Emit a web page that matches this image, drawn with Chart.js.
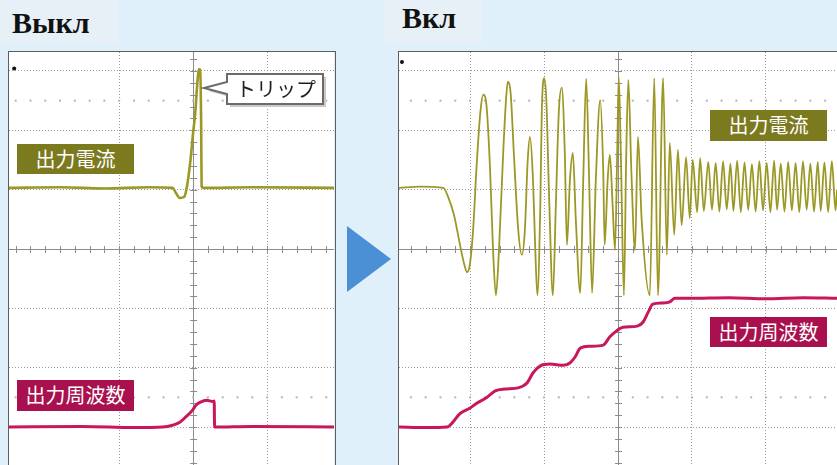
<!DOCTYPE html>
<html>
<head>
<meta charset="utf-8">
<script src="https://cdn.jsdelivr.net/npm/chart.js@4.4.1/dist/chart.umd.min.js"></script>
<style>
  html, body { margin: 0; padding: 0; }
  body {
    width: 837px; height: 465px; position: relative; overflow: hidden;
    background: #e0f0fa;
    font-family: "Noto Sans CJK JP", "Noto Sans", sans-serif;
  }
  .title {
    position: absolute; top: 0; height: 44px;
    background: #e6f0f6;
    font-family: "Liberation Serif", "DejaVu Serif", serif;
    font-weight: bold; font-size: 30px; color: #111; line-height: 1;
  }
  .plot { position: absolute; top: 52px; background: #fff; }
  .plot canvas { display: block; }
  .frame {
    position: absolute; top: 51px; box-sizing: border-box;
    border: 1.5px solid #5e5e5e; border-bottom: none; pointer-events: none;
  }
  .tag {
    position: absolute; color: #fff; font-size: 20px; line-height: 30px;
    text-align: center; letter-spacing: 0px;
  }
  .cur { background: #7c7a1f; }
  .frq { background: #a8114d; }
  .callout-text {
    position: absolute; left: 231px; top: 74px; width: 90px; height: 30px;
    font-size: 20px; line-height: 30px; color: #1e1e1e; text-align: center;
  }
</style>
</head>
<body>

<div class="title" style="left:0;width:118px;"><span style="position:absolute;left:12px;top:8px;">Выкл</span></div>
<div class="title" style="left:385px;width:97px;"><span style="position:absolute;left:17px;top:3px;">Вкл</span></div>

<div class="plot" style="left:9px;width:325px;height:413px;"><canvas id="offChart" width="325" height="413"></canvas></div>
<div class="plot" style="left:399px;width:438px;height:413px;"><canvas id="onChart" width="438" height="413"></canvas></div>
<div class="frame" style="left:8px;width:328px;height:414px;"></div>
<div class="frame" style="left:398px;width:442px;height:414px;"></div>

<svg style="position:absolute;left:0;top:0;" width="837" height="465">
  <polygon points="347,226 347,292 391,259" fill="#4b8fd4"/>
  <path d="M230,77 H326 V107 H230 V97 L208,91 L230,85 Z" fill="#c9c9c9"/>
  <path d="M227,74 H323 V104 H227 V94 L204,88 L227,82 Z" fill="#fff" stroke="#6b6b6b" stroke-width="2"/>
</svg>
<div class="callout-text">トリップ</div>

<div class="tag cur" style="left:17px;top:144px;width:117px;height:30px;">出力電流</div>
<div class="tag frq" style="left:17px;top:380px;width:117px;height:31px;">出力周波数</div>
<div class="tag cur" style="left:710px;top:110px;width:117px;height:31px;">出力電流</div>
<div class="tag frq" style="left:710px;top:317px;width:117px;height:30px;">出力周波数</div>

<script>
// Scope traces, in screen divisions (x: time/div from trigger, y: div from centre line)

// Without stall prevention: current spike, then trip
const offCurrentTime = [-2.49, -1.8, -1.2, -0.6, -0.28, -0.23, -0.18, -0.12, -0.08, -0.04, 0.0, 0.03, 0.05, 0.08, 0.095, 0.108, 0.115, 0.14, 0.8, 1.91];
const offCurrent     = [1.03, 1.04, 1.02, 1.04, 1.03, 0.94, 0.86, 0.88, 1.08, 1.45, 1.96, 2.31, 2.68, 3.03, 3.02, 2.18, 1.05, 1.03, 1.04, 1.03];

const offFreqTime = [-2.49, -1.5, -0.8, -0.41, -0.28, -0.18, -0.10, -0.01, 0.04, 0.10, 0.18, 0.27, 0.285, 0.29, 0.8, 1.91];
const offFreq     = [-3.0, -2.99, -3.01, -3.0, -2.97, -2.92, -2.83, -2.72, -2.63, -2.58, -2.55, -2.57, -2.56, -3.0, -2.99, -3.0];

// With stall prevention: current oscillates and settles, frequency climbs in steps
const onCurrentTime = [
  -2.96, -2.68, -2.36, -2.30, -2.22, -2.14, -2.08, -2.04, -2.00, -1.96, -1.91, -1.86, -1.82, -1.78, -1.73, -1.69,
  -1.65, -1.61, -1.55, -1.51, -1.49, -1.45, -1.41, -1.35, -1.30, -1.26, -1.22, -1.19, -1.15, -1.12, -1.09, -1.05,
  -1.03, -1.00, -0.97, -0.93, -0.88, -0.84, -0.80, -0.76, -0.72, -0.69, -0.65, -0.61, -0.57, -0.51, -0.47, -0.43,
  -0.39, -0.35, -0.30, -0.24, -0.20, -0.18, -0.14, -0.11, -0.07, -0.04, -0.01, 0.01, 0.04, 0.08, 0.11, 0.14,
  0.18, 0.23, 0.27, 0.32, 0.43, 0.49, 0.54, 0.61, 0.66, 0.70, 0.76, 0.81, 0.86, 0.92, 0.97, 1.01,
  1.07, 1.11, 1.16, 1.22, 1.27, 1.32, 1.37, 1.42, 1.47, 1.52, 1.56, 1.61, 1.66, 1.71, 1.76, 1.81,
  1.86, 1.91, 1.96, 2.01, 2.06, 2.11, 2.15, 2.20, 2.25, 2.30, 2.35, 2.40, 2.45, 2.50, 2.55, 2.60,
  2.65, 2.70, 2.74, 2.79, 2.84, 2.89, 2.94, 2.96
];
const onCurrent = [
  1.03, 1.05, 1.03, 0.89, 0.59, 0.10, -0.25, -0.39, -0.24, 0.29, 1.42, 2.31, 2.60, 2.45, 1.37, 0.02,
  -0.78, -0.05, 1.67, 2.58, 2.82, 2.61, 1.67, 0.35, -0.10, 0.29, 1.50, 1.89, 1.20, 0.07, -0.78, 0.74,
  2.31, 2.88, 2.55, 0.83, -0.78, 0.74, 2.31, 2.72, 1.67, 0.07, 1.16, 1.62, 0.49, -0.74, 1.16, 2.87,
  1.16, -0.74, 1.16, 2.51, 1.33, 0.07, 1.16, 1.59, 0.66, -0.02, 1.67, 2.90, 1.50, -0.78, 1.50, 2.85,
  1.33, -0.02, 1.89, 0.49, -0.78, 2.88, -0.78, 2.88, -0.10, 1.79, 0.24, 1.67, 0.40, 1.55, 0.52, 1.50,
  0.62, 1.53, 0.64, 1.47, 0.66, 1.45, 0.63, 1.48, 0.67, 1.44, 0.64, 1.49, 0.62, 1.46, 0.66, 1.43,
  0.63, 1.48, 0.65, 1.45, 0.62, 1.49, 0.66, 1.44, 0.63, 1.47, 0.65, 1.45, 0.62, 1.48, 0.66, 1.44,
  0.63, 1.47, 0.64, 1.46, 0.62, 1.48, 0.65, 1.00
];

const onFreqTime = [-2.96, -2.6, -2.31, -2.24, -2.14, -2.0, -1.91, -1.77, -1.66, -1.53, -1.35, -1.23, -1.15, -1.05, -0.92, -0.74, -0.65, -0.58,
                    -0.51, -0.38, -0.20, -0.11, -0.04, 0.07, 0.26, 0.34, 0.41, 0.47, 0.61, 0.70, 0.77, 0.97, 1.5, 2.0, 2.5, 2.96];
const onFreq     = [-3.0, -3.01, -3.0, -2.93, -2.78, -2.68, -2.60, -2.50, -2.39, -2.36, -2.34, -2.26, -2.09, -1.97, -1.94, -1.96, -1.92, -1.82,
                    -1.67, -1.64, -1.62, -1.48, -1.40, -1.32, -1.30, -1.23, -1.06, -0.93, -0.91, -0.89, -0.83, -0.83, -0.82, -0.84, -0.82, -0.83];

// Visible part of the scope screen in each panel
const offRangeX = [-2.49, 1.905];
const onRangeX  = [-2.96, 2.96];
const rangeY    = [-3.64, 3.32];
// Channel reference dot in the top-left corner
const offMarker = [-2.42, 3.04];
const onMarker  = [-2.92, 3.15];

const CURRENT_COLOR = '#9c9826';
const FREQ_COLOR = '#c8175c';

function pairs(xs, ys) { return xs.map((x, i) => ({ x: x, y: ys[i] })); }

// Centre cross with minor ticks, cursor dot rows and the reference dot
const scopePlugin = {
  id: 'scopeScreen',
  beforeDatasetsDraw(chart, args, opts) {
    const { ctx, chartArea: a, scales: { x, y } } = chart;
    const x0 = x.getPixelForValue(0), y0 = y.getPixelForValue(0);
    ctx.save();
    ctx.strokeStyle = '#8c8c8c';
    ctx.lineWidth = 1;
    ctx.beginPath();
    ctx.moveTo(Math.round(x0) + 0.5, a.top); ctx.lineTo(Math.round(x0) + 0.5, a.bottom);
    ctx.moveTo(a.left, Math.round(y0) + 0.5); ctx.lineTo(a.right, Math.round(y0) + 0.5);
    for (let v = Math.ceil(y.min * 5); v <= Math.floor(y.max * 5); v++) {
      const py = Math.round(y.getPixelForValue(v / 5)) + 0.5;
      ctx.moveTo(x0 - 3, py); ctx.lineTo(x0 + 4, py);
    }
    for (let v = Math.ceil(x.min * 5); v <= Math.floor(x.max * 5); v++) {
      const px = Math.round(x.getPixelForValue(v / 5)) + 0.5;
      ctx.moveTo(px, y0 - 3); ctx.lineTo(px, y0 + 4);
    }
    ctx.stroke();
    ctx.fillStyle = '#b4b4b4';
    [2.5, -2.5].forEach(level => {
      const py = y.getPixelForValue(level);
      for (let v = Math.ceil(x.min * 5); v <= Math.floor(x.max * 5); v++) {
        const px = x.getPixelForValue(v / 5);
        ctx.fillRect(px - 1, py - 1, 2, 2);
      }
    });
    ctx.fillStyle = '#111';
    ctx.beginPath();
    ctx.arc(x.getPixelForValue(opts.marker[0]), y.getPixelForValue(opts.marker[1]), 2, 0, Math.PI * 2);
    ctx.fill();
    ctx.restore();
  }
};

function wholeDivisions(axis) {
  axis.ticks = axis.ticks.filter(t => Math.abs(t.value - Math.round(t.value)) < 1e-6);
}

function axisOptions(range) {
  return {
    type: 'linear', min: range[0], max: range[1],
    afterBuildTicks: wholeDivisions,
    ticks: { display: false, stepSize: 1 },
    grid: { color: '#9a9a9a', lineWidth: 1, drawTicks: false },
    border: { display: false, dash: [1, 2] }
  };
}

function scopeChart(id, rangeX, marker, datasets) {
  return new Chart(document.getElementById(id), {
    type: 'line',
    data: { datasets: datasets },
    options: {
      responsive: false,
      animation: false,
      layout: { padding: 0 },
      parsing: true,
      plugins: { legend: { display: false }, tooltip: { enabled: false }, scopeScreen: { marker: marker } },
      elements: { point: { radius: 0 }, line: { cubicInterpolationMode: 'monotone', borderJoinStyle: 'round' } },
      scales: { x: axisOptions(rangeX), y: axisOptions(rangeY) }
    },
    plugins: [scopePlugin]
  });
}

scopeChart('offChart', offRangeX, offMarker, [
  { label: '出力電流', data: pairs(offCurrentTime, offCurrent), borderColor: CURRENT_COLOR, borderWidth: 2.6 },
  { label: '出力周波数', data: pairs(offFreqTime, offFreq), borderColor: FREQ_COLOR, borderWidth: 3 }
]);

scopeChart('onChart', onRangeX, onMarker, [
  { label: '出力電流', data: pairs(onCurrentTime, onCurrent), borderColor: CURRENT_COLOR, borderWidth: 1.8 },
  { label: '出力周波数', data: pairs(onFreqTime, onFreq), borderColor: FREQ_COLOR, borderWidth: 3 }
]);
</script>
</body>
</html>
